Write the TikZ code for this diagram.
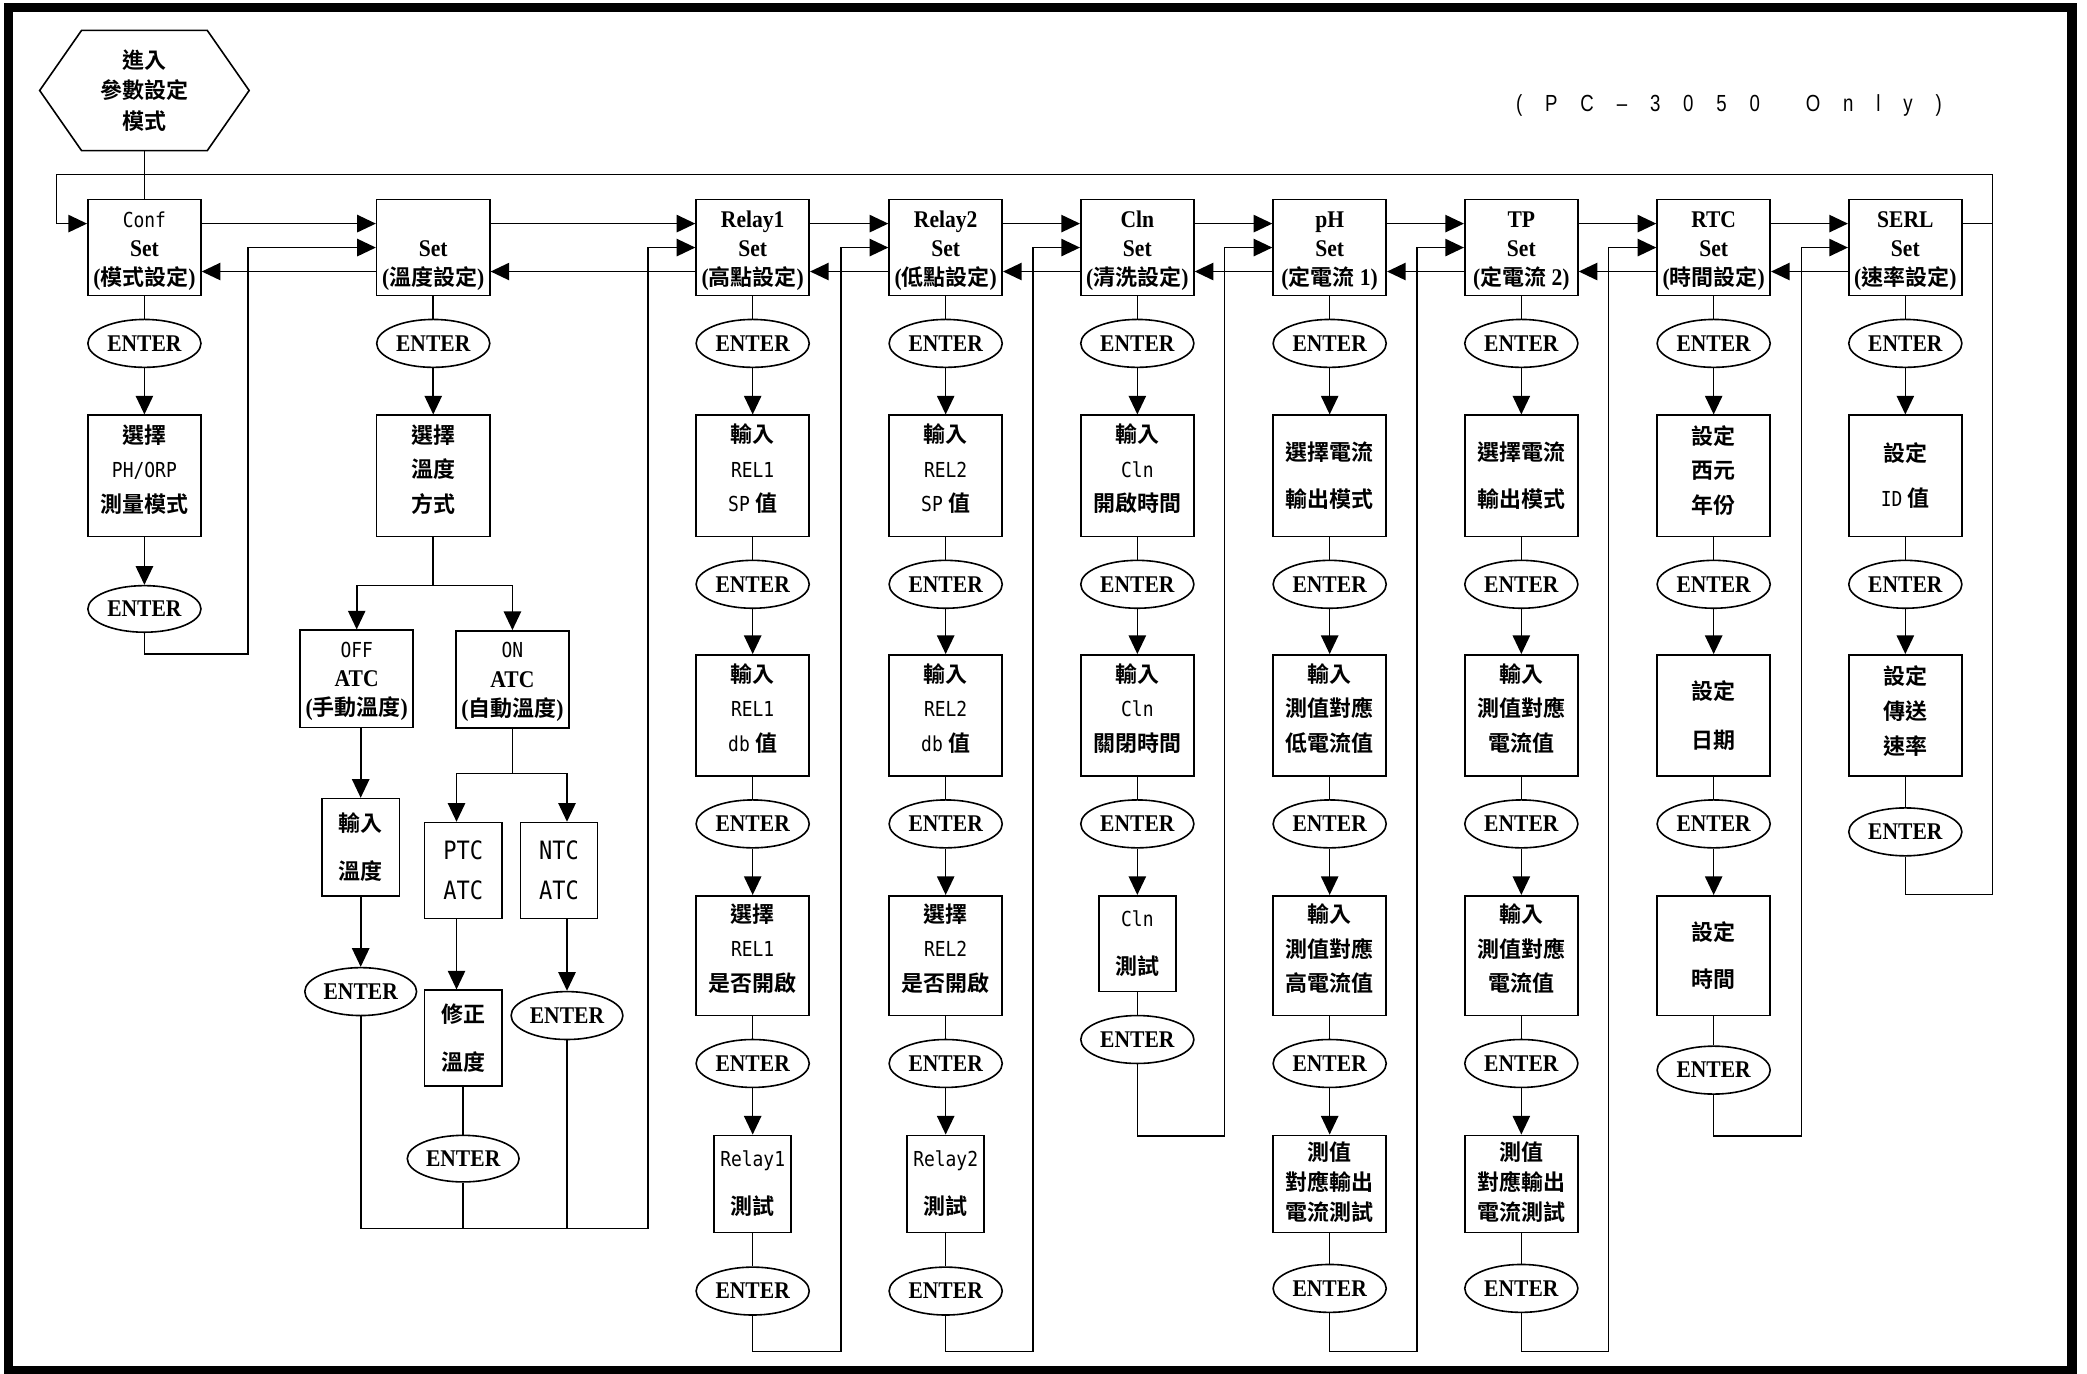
\documentclass[tikz,border=0pt]{standalone}
\usepackage{fontspec}
\setmainfont{Liberation Serif}[FakeStretch=0.9]
\newfontfamily\cjkf{Noto Sans CJK TC Bold}
\newfontfamily\monof{DejaVu Sans Mono}[FakeStretch=0.87]
\newfontfamily\narf{Liberation Sans}[FakeStretch=0.8]
\usetikzlibrary{arrows.meta,shapes.geometric,calc}
\newcommand\zh[1]{{\cjkf\mdseries\fontsize{16.5}{16.5}\selectfont #1}}
\newcommand\mo[1]{{\monof\mdseries\fontsize{15.5}{15.5}\selectfont #1}}
\newcommand\mob[1]{{\monof\mdseries\fontsize{19}{19}\selectfont #1}}
\newcommand\dn[1]{\rule[-#1]{0pt}{#1}}
\newcommand\hup{\rule{0pt}{17.5pt}}
\newcommand\oup{\rule{0pt}{15.5pt}}
\begin{document}
\begin{tikzpicture}[x=1pt,y=-1pt,
 ln/.style={line width=1.2pt},
 arr/.style={line width=1.2pt,-{Triangle[length=14pt,width=13pt]}},
 box/.style={draw,line width=1.2pt,minimum width=85pt,inner sep=0pt,align=center,font=\bfseries\fontsize{18}{26}\selectfont},
 hd/.style={box,minimum height=72pt,font=\bfseries\fontsize{18}{22}\selectfont},
 tall/.style={box,minimum height=91pt},
 lsk/.style={font=\bfseries\fontsize{18}{#1}\selectfont},
 ent/.style={draw,ellipse,line width=1.2pt,minimum width=85pt,minimum height=36pt,inner sep=0pt,font=\bfseries\fontsize{18}{22}\selectfont},
]
\useasboundingbox (0,0) rectangle (1568,1032);
\draw[line width=7pt] (6.4,5.4) rectangle (1556.6,1029.5);

% levels and verticals
\coordinate (lvT) at (0,131);
\coordinate (lvConf) at (0,491.5);
\coordinate (lvB) at (0,440);
\coordinate (lvD) at (0,581);
\coordinate (lvA) at (0,923);
\coordinate (lvR) at (0,1015.5);
\coordinate (lvC) at (0,853.5);
\coordinate (lvS) at (0,672);
\coordinate (vx0) at (42.5,0);
\coordinate (vx1) at (186.5,0);
\coordinate (vx2) at (487,0);
\coordinate (vx3) at (632,0);
\coordinate (vx4) at (776,0);
\coordinate (vx5) at (920,0);
\coordinate (vx6) at (1064.5,0);
\coordinate (vx7) at (1208.5,0);
\coordinate (vx8) at (1353.5,0);
\coordinate (vx9) at (1497,0);
\coordinate (pjx) at (343,0);
\coordinate (njx) at (426,0);

% title
\node[font=\narf\fontsize{17.5}{20}\selectfont,inner sep=0pt] (title) at (1299,79)
 {\makebox[320pt]{(\hfill P\hfill C\hfill –\hfill 3\hfill 0\hfill 5\hfill 0\hfill\hfill O\hfill n\hfill l\hfill y\hfill )}};

% hexagon
\node[align=center,minimum width=157pt,minimum height=90pt,inner sep=0pt,font=\bfseries\fontsize{18}{23}\selectfont] (hex) at (108.5,68)
 {\zh{進入}\\\zh{參數設定}\\\zh{模式}};
\draw[ln] (hex.west) -- ([xshift=31.5pt]hex.north west) -- ([xshift=-31.5pt]hex.north east) -- (hex.east)
 -- ([xshift=-31.5pt]hex.south east) -- ([xshift=31.5pt]hex.south west) -- cycle;

% Conf column
\node[hd] (cf) at (108.5,186) {\hup\mo{Conf}\\Set\\(\zh{模式設定})};
\node[ent] (cf-e1) at (108.5,258) {ENTER};
\node[tall] (cf-b2) at (108.5,357.5) {\zh{選擇}\\\mo{PH/ORP}\\\zh{測量模式}\dn{11pt}};
\node[ent,minimum height=35pt] (cf-e2) at (108.5,457.5) {ENTER};

% Set column
\node[hd] (ts) at (325.5,186) {\hup\\Set\\(\zh{溫度設定})};
\node[ent] (ts-e1) at (325.5,258) {ENTER};
\node[tall] (ts-b2) at (325.5,357.5) {\zh{選擇}\\\zh{溫度}\\\zh{方式}\dn{11pt}};
\node[box,lsk=22,minimum height=73pt] (off) at (268,510) {\oup\mo{OFF}\\ATC\\(\zh{手動溫度})};
\node[box,lsk=22,minimum height=73pt] (on) at (385,510.5) {\oup\mo{ON}\\ATC\\(\zh{自動溫度})};
\node[box,minimum width=58pt,minimum height=73pt,lsk=36] (in1) at (271,636.5) {\zh{輸入}\\\zh{溫度}};
\node[ent,minimum width=84pt] (in1-e) at (271,745) {ENTER};
\node[box,minimum width=58pt,minimum height=72pt,lsk=30] (ptc) at (348,654) {\mob{PTC}\\\mob{ATC}};
\node[box,minimum width=58pt,minimum height=72pt,lsk=30] (ntc) at (420,654) {\mob{NTC}\\\mob{ATC}};
\node[box,minimum width=58pt,minimum height=72pt,lsk=36] (fix) at (348,780) {\zh{修正}\\\zh{溫度}};
\node[ent,minimum width=84pt,minimum height=35pt] (fix-e) at (348,870.5) {ENTER};
\node[ent,minimum width=84pt] (ntc-e) at (426,763) {ENTER};

% Relay1
\node[hd] (r1) at (565.5,186) {\hup Relay1\\Set\\(\zh{高點設定})};
\node[ent] (r1-e1) at (565.5,258) {ENTER};
\node[tall] (r1-b2) at (565.5,357.5) {\zh{輸入}\\\mo{REL1}\\\mo{SP} \zh{值}\dn{12pt}};
\node[ent] (r1-e2) at (565.5,439) {ENTER};
\node[tall] (r1-b3) at (565.5,537.5) {\zh{輸入}\\\mo{REL1}\\\mo{db} \zh{值}\dn{12pt}};
\node[ent] (r1-e3) at (565.5,619) {ENTER};
\node[tall,minimum height=90pt] (r1-b4) at (565.5,718) {\zh{選擇}\\\mo{REL1}\\\zh{是否開啟}\dn{12pt}};
\node[ent] (r1-e4) at (565.5,799) {ENTER};
\node[box,minimum width=58pt,minimum height=73pt,lsk=36] (r1-b5) at (565.5,889.5) {\mo{Relay1}\\\zh{測試}};
\node[ent] (r1-e5) at (565.5,970) {ENTER};

% Relay2
\node[hd] (r2) at (710.5,186) {\hup Relay2\\Set\\(\zh{低點設定})};
\node[ent] (r2-e1) at (710.5,258) {ENTER};
\node[tall] (r2-b2) at (710.5,357.5) {\zh{輸入}\\\mo{REL2}\\\mo{SP} \zh{值}\dn{12pt}};
\node[ent] (r2-e2) at (710.5,439) {ENTER};
\node[tall] (r2-b3) at (710.5,537.5) {\zh{輸入}\\\mo{REL2}\\\mo{db} \zh{值}\dn{12pt}};
\node[ent] (r2-e3) at (710.5,619) {ENTER};
\node[tall,minimum height=90pt] (r2-b4) at (710.5,718) {\zh{選擇}\\\mo{REL2}\\\zh{是否開啟}\dn{12pt}};
\node[ent] (r2-e4) at (710.5,799) {ENTER};
\node[box,minimum width=58pt,minimum height=73pt,lsk=36] (r2-b5) at (710.5,889.5) {\mo{Relay2}\\\zh{測試}};
\node[ent] (r2-e5) at (710.5,970) {ENTER};

% Cln
\node[hd] (cl) at (854.5,186) {\hup Cln\\Set\\(\zh{清洗設定})};
\node[ent] (cl-e1) at (854.5,258) {ENTER};
\node[tall] (cl-b2) at (854.5,357.5) {\zh{輸入}\\\mo{Cln}\\\zh{開啟時間}\dn{12pt}};
\node[ent] (cl-e2) at (854.5,439) {ENTER};
\node[tall] (cl-b3) at (854.5,537.5) {\zh{輸入}\\\mo{Cln}\\\zh{關閉時間}\dn{12pt}};
\node[ent] (cl-e3) at (854.5,619) {ENTER};
\node[box,minimum width=58pt,minimum height=72pt,lsk=36] (cl-b4) at (854.5,709) {\mo{Cln}\\\zh{測試}};
\node[ent] (cl-e4) at (854.5,781) {ENTER};

% pH
\node[hd] (ph) at (999,186) {\hup pH\\Set\\(\zh{定電流} 1)};
\node[ent] (ph-e1) at (999,258) {ENTER};
\node[tall,lsk=35] (ph-b2) at (999,357.5) {\zh{選擇電流}\\\zh{輸出模式}};
\node[ent] (ph-e2) at (999,439) {ENTER};
\node[tall] (ph-b3) at (999,537.5) {\zh{輸入}\\\zh{測值對應}\\\zh{低電流值}\dn{12pt}};
\node[ent] (ph-e3) at (999,619) {ENTER};
\node[tall,minimum height=90pt] (ph-b4) at (999,718) {\zh{輸入}\\\zh{測值對應}\\\zh{高電流值}\dn{12pt}};
\node[ent] (ph-e4) at (999,799) {ENTER};
\node[box,minimum height=73pt,lsk=22.5] (ph-b5) at (999,889.5) {\zh{測值}\\\zh{對應輸出}\\\zh{電流測試}\dn{4pt}};
\node[ent] (ph-e5) at (999,968) {ENTER};

% TP
\node[hd] (tp) at (1143,186) {\hup TP\\Set\\(\zh{定電流} 2)};
\node[ent] (tp-e1) at (1143,258) {ENTER};
\node[tall,lsk=35] (tp-b2) at (1143,357.5) {\zh{選擇電流}\\\zh{輸出模式}};
\node[ent] (tp-e2) at (1143,439) {ENTER};
\node[tall] (tp-b3) at (1143,537.5) {\zh{輸入}\\\zh{測值對應}\\\zh{電流值}\dn{12pt}};
\node[ent] (tp-e3) at (1143,619) {ENTER};
\node[tall,minimum height=90pt] (tp-b4) at (1143,718) {\zh{輸入}\\\zh{測值對應}\\\zh{電流值}\dn{12pt}};
\node[ent] (tp-e4) at (1143,799) {ENTER};
\node[box,minimum height=73pt,lsk=22.5] (tp-b5) at (1143,889.5) {\zh{測值}\\\zh{對應輸出}\\\zh{電流測試}\dn{4pt}};
\node[ent] (tp-e5) at (1143,968) {ENTER};

% RTC
\node[hd] (rt) at (1287.5,186) {\hup RTC\\Set\\(\zh{時間設定})};
\node[ent] (rt-e1) at (1287.5,258) {ENTER};
\node[tall] (rt-b2) at (1287.5,357.5) {\zh{設定}\\\zh{西元}\\\zh{年份}\dn{10pt}};
\node[ent] (rt-e2) at (1287.5,439) {ENTER};
\node[tall,lsk=37] (rt-b3) at (1287.5,537.5) {\zh{設定}\\\zh{日期}};
\node[ent] (rt-e3) at (1287.5,619) {ENTER};
\node[tall,minimum height=90pt,lsk=35] (rt-b4) at (1287.5,718) {\zh{設定}\\\zh{時間}};
\node[ent] (rt-e4) at (1287.5,804) {ENTER};

% SERL
\node[hd] (se) at (1431.5,186) {\hup SERL\\Set\\(\zh{速率設定})};
\node[ent] (se-e1) at (1431.5,258) {ENTER};
\node[tall,lsk=34] (se-b2) at (1431.5,357.5) {\zh{設定}\\\mo{ID} \zh{值}};
\node[ent] (se-e2) at (1431.5,439) {ENTER};
\node[tall] (se-b3) at (1431.5,537.5) {\zh{設定}\\\zh{傳送}\\\zh{速率}\dn{8pt}};
\node[ent] (se-e3) at (1431.5,625) {ENTER};

% vertical connectors in columns
\draw[ln] (hex.south) -- (cf.north);
\draw[ln] (cf) -- (cf-e1);
\draw[arr] (cf-e1) -- (cf-b2);
\draw[arr] (cf-b2) -- (cf-e2);
\draw[ln] (ts) -- (ts-e1);
\draw[arr] (ts-e1) -- (ts-b2);
\foreach \c in {r1,r2,ph,tp}{
  \draw[ln] (\c) -- (\c-e1);
  \draw[arr] (\c-e1) -- (\c-b2);
  \draw[ln] (\c-b2) -- (\c-e2);
  \draw[arr] (\c-e2) -- (\c-b3);
  \draw[ln] (\c-b3) -- (\c-e3);
  \draw[arr] (\c-e3) -- (\c-b4);
  \draw[ln] (\c-b4) -- (\c-e4);
  \draw[arr] (\c-e4) -- (\c-b5);
  \draw[ln] (\c-b5) -- (\c-e5);
}
\foreach \c in {cl,rt}{
  \draw[ln] (\c) -- (\c-e1);
  \draw[arr] (\c-e1) -- (\c-b2);
  \draw[ln] (\c-b2) -- (\c-e2);
  \draw[arr] (\c-e2) -- (\c-b3);
  \draw[ln] (\c-b3) -- (\c-e3);
  \draw[arr] (\c-e3) -- (\c-b4);
  \draw[ln] (\c-b4) -- (\c-e4);
}
\draw[ln] (se) -- (se-e1);
\draw[arr] (se-e1) -- (se-b2);
\draw[ln] (se-b2) -- (se-e2);
\draw[arr] (se-e2) -- (se-b3);
\draw[ln] (se-b3) -- (se-e3);

% temperature branch
\draw[ln] (ts-b2.south) -- (ts-b2.south |- lvB);
\draw[arr] (ts-b2.south |- lvB) -| (off.north);
\draw[arr] (ts-b2.south |- lvB) -| (on.north);
\draw[arr] (off.south -| in1.north) -- (in1.north);
\draw[arr] (in1) -- (in1-e);
\draw[ln] (on.south) -- (on.south |- lvD);
\draw[arr] (on.south |- lvD) -| (pjx |- ptc.north);
\draw[arr] (on.south |- lvD) -| (njx |- ntc.north);
\draw[arr] (pjx |- ptc.south) -- (pjx |- fix.north);
\draw[ln] (fix) -- (fix-e);
\draw[arr] (njx |- ntc.south) -- (ntc-e.north);
\draw[ln] (fix-e.south) -- (fix-e.south |- lvA);
\draw[ln] (ntc-e.south) -- (ntc-e.south |- lvA);

% top row horizontal arrows
\foreach \a/\b in {cf/ts,ts/r1,r1/r2,r2/cl,cl/ph,ph/tp,tp/rt,rt/se}{
  \draw[arr] ([yshift=18pt]\a.east) -- ([yshift=18pt]\b.west);
  \draw[arr] ([yshift=-18pt]\b.west) -- ([yshift=-18pt]\a.east);
}

% returns from column bottoms
\draw[arr] (cf-e2.south) |- (vx1 |- lvConf) |- (ts.west);
\draw[arr] (in1-e.south) |- (vx2 |- lvA) |- (r1.west);
\draw[arr] (r1-e5.south) |- (vx3 |- lvR) |- (r2.west);
\draw[arr] (r2-e5.south) |- (vx4 |- lvR) |- (cl.west);
\draw[arr] (cl-e4.south) |- (vx5 |- lvC) |- (ph.west);
\draw[arr] (ph-e5.south) |- (vx6 |- lvR) |- (tp.west);
\draw[arr] (tp-e5.south) |- (vx7 |- lvR) |- (rt.west);
\draw[arr] (rt-e4.south) |- (vx8 |- lvC) |- (se.west);

% loop back to Conf
\coordinate (cin) at ([yshift=18pt]cf.west);
\coordinate (sout) at ([yshift=18pt]se.east);
\draw[ln] (sout) -- (sout -| vx9);
\draw[arr] (se-e3.south) |- (vx9 |- lvS) -- (vx9 |- lvT) -| (vx0 |- cin) -- (cin);
\end{tikzpicture}
\end{document}
